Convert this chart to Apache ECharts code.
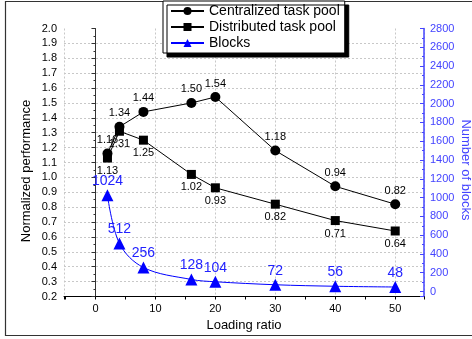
<!DOCTYPE html>
<html>
<head>
<meta charset="utf-8">
<script src="https://cdn.jsdelivr.net/npm/echarts@6/dist/echarts.min.js"></script>
<style>
  html, body { margin: 0; padding: 0; background: #fff; }
  #chart { width: 472px; height: 339px; }
</style>
</head>
<body>
<div id="chart"></div>
<script>
// Loading ratio on the x axis
const loadingRatio = [2, 4, 8, 16, 20, 30, 40, 50];
// Normalized performance (left axis)
const centralized = [1.16, 1.34, 1.44, 1.50, 1.54, 1.18, 0.94, 0.82];
const distributed = [1.13, 1.31, 1.25, 1.02, 0.93, 0.82, 0.71, 0.64];
// Number of blocks (right axis)
const blocks = [1024, 512, 256, 128, 104, 72, 56, 48];

const seriesNames = ['Centralized task pool', 'Distributed task pool', 'Blocks'];
const axisTitles = ['Loading ratio', 'Normalized performance', 'Number of blocks'];
const FONT = '"Liberation Sans", Arial, sans-serif';
const BLUE = '#0000ff';
const AXIS_BLUE = '#4444ff';

const pairs = (ys) => loadingRatio.map((x, i) => [x, ys[i]]);

const chart = echarts.init(document.getElementById('chart'), null, { renderer: 'canvas' });

chart.setOption({
  animation: false,
  backgroundColor: '#fff',
  textStyle: { fontFamily: FONT },
  graphic: [{
    type: 'rect',
    z: -10,
    shape: { x: 5.5, y: 1.5, width: 480, height: 334 },
    style: { fill: 'none', stroke: '#333', lineWidth: 1.2 }
  }, {
    // left axis title, reading bottom to top
    type: 'text',
    x: 26, y: 171,
    rotation: Math.PI / 2,
    style: {
      text: axisTitles[1], font: '13px ' + FONT, fill: '#000',
      align: 'center', verticalAlign: 'middle'
    }
  }, {
    // right axis title, reading top to bottom
    type: 'text',
    x: 466, y: 170,
    rotation: -Math.PI / 2,
    style: {
      text: axisTitles[2], font: '13px ' + FONT, fill: AXIS_BLUE,
      align: 'center', verticalAlign: 'middle'
    }
  }],
  grid: {
    left: 64, right: 48, top: 28.5, bottom: 42.5,
    containLabel: false, outerBoundsMode: 'none'
  },
  legend: {
    data: seriesNames,
    orient: 'vertical',
    left: 163,
    top: 1,
    padding: [3, 5, 3, 7],
    itemGap: 2,
    itemWidth: 33,
    itemHeight: 10,
    backgroundColor: '#fff',
    borderColor: '#000',
    borderWidth: 1,
    borderRadius: 0,
    shadowColor: '#000',
    shadowBlur: 0,
    shadowOffsetX: 4,
    shadowOffsetY: 4,
    textStyle: { fontFamily: FONT, fontSize: 14, color: '#000', lineHeight: 14 }
  },
  xAxis: {
    type: 'value',
    min: -5.25,
    max: 54.8,
    splitNumber: 6,
    name: axisTitles[0],
    nameLocation: 'middle',
    nameGap: 21,
    nameTextStyle: { fontFamily: FONT, fontSize: 13, color: '#000' },
    axisLine: { onZero: false, lineStyle: { color: '#000', width: 1 } },
    axisTick: { inside: false, length: 3, lineStyle: { color: '#000' } },
    minorTick: { show: true, splitNumber: 2, length: 3, lineStyle: { color: '#000' } },
    axisLabel: {
      margin: 7, fontSize: 11, color: '#000', fontFamily: FONT,
      showMinLabel: false, showMaxLabel: false,
      formatter: (v) => (Math.abs(v % 10) < 1e-9 ? String(v) : '')
    },
    splitLine: { show: true, lineStyle: { color: '#c8c8c8', type: [2, 2], width: 1 } }
  },
  yAxis: [{
    type: 'value',
    min: 0.2,
    max: 2.0,
    interval: 0.1,
    position: 'left',
    axisLine: { show: true, lineStyle: { color: '#333', width: 1 } },
    axisTick: { inside: false, length: 4, lineStyle: { color: '#333' } },
    minorTick: { show: true, splitNumber: 2, length: 2, lineStyle: { color: '#333' } },
    axisLabel: {
      margin: 7, fontSize: 11, color: '#000', fontFamily: FONT,
      formatter: (v) => v.toFixed(1)
    },
    splitLine: { show: true, showMinLine: false, showMaxLine: false,
      lineStyle: { color: '#c8c8c8', type: [2, 2], width: 1 } }
  }, {
    type: 'value',
    min: -53,
    max: 2800,
    splitNumber: 14,
    position: 'right',
    axisLine: { show: true, onZero: false, lineStyle: { color: AXIS_BLUE, width: 1.5 } },
    axisTick: { inside: true, length: 4, lineStyle: { color: AXIS_BLUE } },
    minorTick: { show: true, splitNumber: 2, length: 2, lineStyle: { color: AXIS_BLUE } },
    axisLabel: {
      margin: 6, fontSize: 11, color: AXIS_BLUE, fontFamily: FONT,
      showMinLabel: false,
      formatter: (v) => (v < 0 ? '' : String(v))
    },
    splitLine: { show: false }
  }],
  series: [{
    name: seriesNames[0],
    type: 'line',
    yAxisIndex: 0,
    data: pairs(centralized),
    symbol: 'circle',
    symbolSize: 10,
    itemStyle: { color: '#000' },
    lineStyle: { color: '#000', width: 1 },
    label: {
      show: true, position: 'top', distance: 3,
      fontFamily: FONT, fontSize: 11, color: '#000',
      formatter: (p) => p.value[1].toFixed(2)
    },
    z: 3
  }, {
    name: seriesNames[1],
    type: 'line',
    yAxisIndex: 0,
    data: pairs(distributed),
    symbol: 'rect',
    symbolSize: 9,
    itemStyle: { color: '#000' },
    lineStyle: { color: '#000', width: 1 },
    label: {
      show: true, position: 'bottom', distance: 3,
      fontFamily: FONT, fontSize: 11, color: '#000',
      formatter: (p) => p.value[1].toFixed(2)
    },
    z: 3
  }, {
    name: seriesNames[2],
    type: 'line',
    yAxisIndex: 1,
    data: pairs(blocks),
    smooth: 0.35,
    symbol: 'triangle',
    symbolSize: 12,
    itemStyle: { color: BLUE },
    lineStyle: { color: BLUE, width: 1 },
    label: {
      show: true, position: 'top', distance: 1,
      fontFamily: FONT, fontSize: 14, color: '#2222ff',
      formatter: (p) => String(p.value[1])
    },
    z: 4
  }]
});
</script>
</body>
</html>
